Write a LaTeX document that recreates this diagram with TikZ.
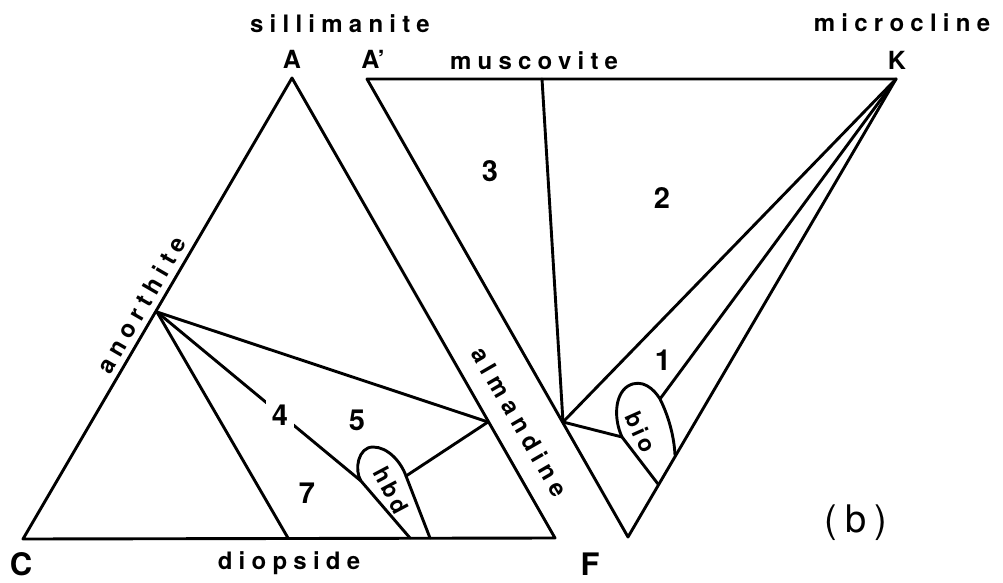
\documentclass[tikz,border=0pt]{standalone}
\usepackage{fontspec}
\setmainfont{TeX Gyre Heros}
\usetikzlibrary{positioning}
\tikzset{
  every picture/.style={line width=2.9pt, line join=round, line cap=round},
  vtx/.style={font=\bfseries\fontsize{25}{28}\selectfont, inner sep=0pt},
  bigvtx/.style={font=\bfseries\fontsize{31}{34}\selectfont, inner sep=0pt},
  mineral/.style={font=\bfseries\fontsize{24}{26}\selectfont\addfontfeature{LetterSpace=26}, inner sep=0pt},
  field/.style={font=\bfseries\fontsize{29}{32}\selectfont, inner sep=0pt},
  gapfield/.style={field, fill=white, inner sep=6pt},
  pocket/.style={font=\bfseries\fontsize{23}{25}\selectfont\addfontfeature{LetterSpace=16}, inner sep=0pt},
  panel/.style={font=\fontsize{38}{40}\selectfont\addfontfeature{LetterSpace=22}, inner sep=0pt},
}
\begin{document}
\begin{tikzpicture}[x=1pt, y=-1pt]
  \useasboundingbox (0,0) rectangle (1003,583);
  % corners of the two triangles
  \coordinate (A) at (292,78);
  \coordinate (C) at (23,539);
  \coordinate (F) at (555,538);
  \coordinate (Ap) at (367,79);
  \coordinate (K) at (896,79);
  \coordinate (Fp) at (628,537);
  % phases on the edges
  \coordinate (An) at (157,312);
  \coordinate (Di) at (288,538);
  \coordinate (Alm) at (488,422);
  \coordinate (AlmR) at (563,422);
  \coordinate (Mu) at (542,79);
  \coordinate (hbdL) at (410,538);
  \coordinate (hbdR) at (430,538);
  \coordinate (hbdIn) at (361,481);
  \coordinate (hbdOut) at (406,476);
  \coordinate (bioLo) at (658,484);
  \coordinate (bioHi) at (675,455);
  \coordinate (bioIn) at (622,437);
  \coordinate (bioTop) at (660,399);

  \draw (A) -- (C) -- (F) -- cycle;
  \draw (Ap) -- (K) -- (Fp) -- cycle;
  \draw (An) -- (Di);
  \draw (An) -- (Alm);
  \draw (An) -- (hbdIn);
  \draw (Alm) -- (hbdOut);
  \draw (Mu) -- (AlmR);
  \draw (AlmR) -- (K);
  \draw (AlmR) -- (bioIn);
  \draw (bioTop) -- (K);
  % hbd and bio pockets
  \draw (hbdL) -- (hbdIn) .. controls (354,470) and (358,447) .. (373,447)
    .. controls (388,447) and (401,462) .. (hbdOut) -- (hbdR);
  \draw (bioLo) -- (bioIn) .. controls (614,420) and (614,395) .. (628,386)
    .. controls (642,378) and (654,389) .. (bioTop)
    .. controls (668,415) and (674,435) .. (bioHi);

  % labels
  \node[mineral] (sil) at (340,24) {sillimanite};
  \node[vtx] (Alab) at (292,59) {A};
  \node[vtx] (Aplab) at (373,59) {A’};
  \node[mineral] (musc) at (534,61) {muscovite};
  \node[mineral] (micro) at (902,23) {microcline};
  \node[vtx] (Klab) at (897,60) {K};
  \node[bigvtx] (Clab) at (21,564) {C};
  \node[mineral] (diop) at (289,563) {diopside};
  \node[bigvtx] (Flab) at (590,564) {F};
  \node[mineral, rotate=60] (anor) at (141,305) {anorthite};
  \node[mineral, rotate=-60] (almd) at (520,422) {almandine};
  \node[field] (f3) at (490,171) {3};
  \node[field] (f2) at (662,198) {2};
  \node[field] (f1) at (663,360) {1};
  \node[gapfield] (f4) at (280,415) {4};
  \node[field] (f5) at (357,420) {5};
  \node[field] (f7) at (307,493) {7};
  \node[pocket, rotate=-62] (hbd) at (391,490) {hbd};
  \node[pocket, rotate=-66] (bio) at (641,432) {bio};
  \node[panel] (pb) at (856,523) {(b)};
\end{tikzpicture}
\end{document}
